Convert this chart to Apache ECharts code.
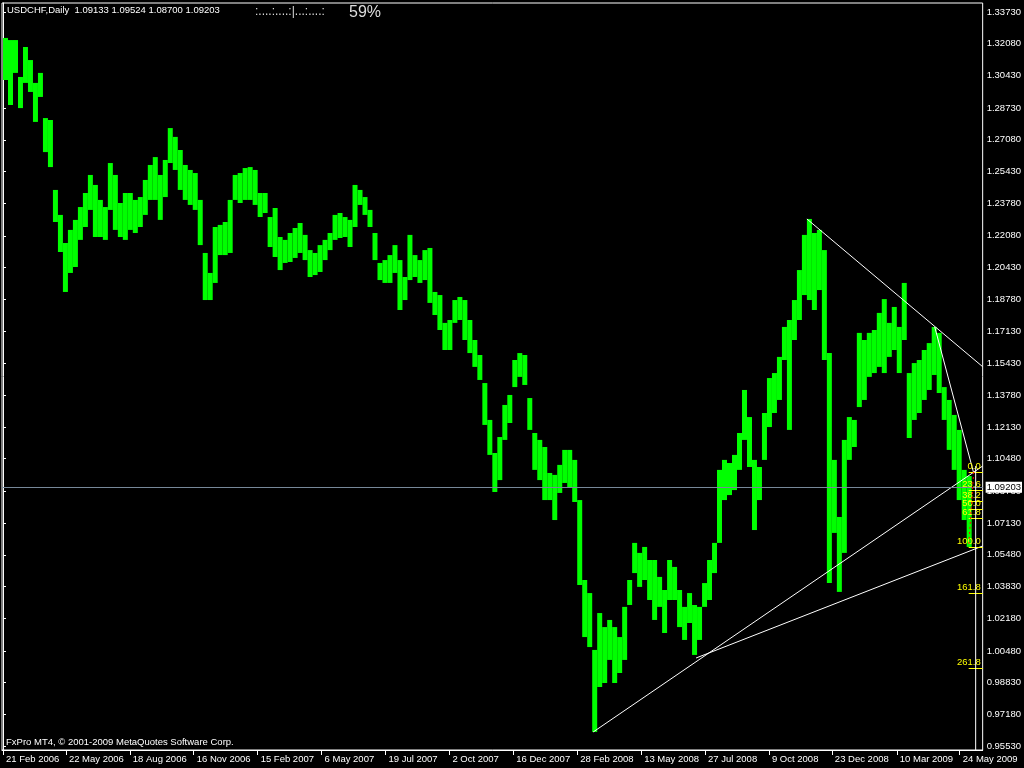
<!DOCTYPE html>
<html><head><meta charset="utf-8">
<style>html,body{margin:0;padding:0;background:#000;}#c{width:1024px;height:768px;}</style>
<script src="https://cdn.jsdelivr.net/npm/echarts/dist/echarts.min.js"></script>
</head><body><div id="c"></div>
<script>
// ---- data ----
const symbolTitle = 'USDCHF,Daily';
const lastOHLC = ['1.09133', '1.09524', '1.08700', '1.09203'];
const bidPrice = 1.09203;
const progressText = ':....:....:|...:....:';
const progressPct = '59%';
const copyright = 'FxPro MT4, \u00a9 2001-2009 MetaQuotes Software Corp.';
const STEP = 5; // bars per column (1 bar = 1 day)
const highs = [
1.3238,1.3227,1.3227,1.3035,1.3191,1.3123,1.3004,1.3056,1.2821,1.2811,
1.2447,1.2317,1.2171,1.2239,1.2291,1.2358,1.2431,1.2525,1.2473,1.2395,
1.2358,1.2587,1.2525,1.2379,1.2431,1.2431,1.2395,1.2410,1.2499,1.2577,
1.2618,1.2525,1.2603,1.2769,1.2723,1.2655,1.2577,1.2551,1.2535,1.2395,
1.2119,1.2015,1.2254,1.2265,1.2280,1.2395,1.2525,1.2535,1.2561,1.2566,
1.2551,1.2431,1.2431,1.2306,1.2353,1.2202,1.2187,1.2223,1.2249,1.2275,
1.2213,1.2134,1.2119,1.2160,1.2187,1.2223,1.2317,1.2327,1.2306,1.2291,
1.2473,1.2447,1.2410,1.2343,1.2223,1.2067,1.2082,1.2108,1.2160,1.2082,
1.1994,1.2213,1.2108,1.2082,1.2134,1.2145,1.1916,1.1900,1.1755,1.1770,
1.1874,1.1890,1.1874,1.1770,1.1666,1.1588,1.1442,1.1250,1.1078,1.1161,
1.1328,1.1380,1.1562,1.1598,1.1588,1.1364,1.1182,1.1146,1.1109,1.0974,
1.0964,1.1016,1.1094,1.1094,1.1042,1.0833,1.0417,1.0349,1.0053,1.0245,
1.0172,1.0209,1.0172,1.0120,1.0277,1.0417,1.0610,1.0558,1.0589,1.0521,
1.0521,1.0433,1.0365,1.0521,1.0485,1.0365,1.0277,1.0349,1.0287,1.0277,
1.0401,1.0521,1.0610,1.0990,1.1042,1.1026,1.1068,1.1182,1.1406,1.1265,
1.1042,1.1005,1.1286,1.1468,1.1494,1.1578,1.1734,1.1770,1.1874,1.2030,
1.2213,1.2296,1.2223,1.2239,1.2134,1.1598,1.1042,1.0745,1.1146,1.1265,
1.1250,1.1703,1.1666,1.1703,1.1718,1.1807,1.1879,1.1755,1.1838,1.1734,
1.1963,1.1494,1.1546,1.1562,1.1614,1.1650,1.1734,1.1703,1.1421,1.1354,
1.1276,1.1198,1.0990,1.0958
];
const lows = [
1.3019,1.2889,1.3056,1.2873,1.3004,1.2957,1.2801,1.2931,1.2644,1.2566,
1.2280,1.2124,1.1916,1.2015,1.2046,1.2187,1.2254,1.2343,1.2202,1.2202,
1.2187,1.2343,1.2239,1.2202,1.2187,1.2239,1.2223,1.2254,1.2317,1.2395,
1.2395,1.2291,1.2410,1.2587,1.2551,1.2447,1.2395,1.2369,1.2343,1.2160,
1.1874,1.1874,1.1963,1.2108,1.2108,1.2119,1.2395,1.2379,1.2395,1.2395,
1.2369,1.2306,1.2327,1.2150,1.2098,1.2030,1.2067,1.2072,1.2093,1.2119,
1.2082,1.1994,1.2004,1.2020,1.2082,1.2134,1.2187,1.2197,1.2202,1.2150,
1.2254,1.2369,1.2317,1.2254,1.2082,1.1978,1.1963,1.1963,1.2015,1.1822,
1.1874,1.1978,1.1994,1.1963,1.1978,1.1859,1.1796,1.1718,1.1614,1.1614,
1.1755,1.1770,1.1666,1.1598,1.1526,1.1458,1.1224,1.1068,1.0875,1.0937,
1.1146,1.1234,1.1421,1.1474,1.1432,1.1198,1.0990,1.0937,1.0833,1.0833,
1.0729,1.0870,1.0922,1.0901,1.0823,1.0391,1.0120,1.0068,0.9626,0.9860,
0.9881,1.0001,0.9881,0.9933,1.0001,1.0287,1.0453,1.0381,1.0417,1.0313,
1.0209,1.0277,1.0141,1.0313,1.0313,1.0172,1.0105,1.0193,1.0027,1.0105,
1.0277,1.0313,1.0453,1.0610,1.0833,1.0859,1.0885,1.0990,1.1146,1.1005,
1.0677,1.0833,1.1042,1.1213,1.1286,1.1354,1.1562,1.1198,1.1666,1.1770,
1.1900,1.1874,1.1822,1.1926,1.1562,1.0401,1.0662,1.0355,1.0558,1.1042,
1.1109,1.1317,1.1354,1.1474,1.1494,1.1526,1.1494,1.1578,1.1614,1.1494,
1.1666,1.1156,1.1250,1.1286,1.1354,1.1406,1.1484,1.1390,1.1250,1.1094,
1.0990,1.0833,1.0729,1.0589
];
const dateLabels = ['21 Feb 2006','22 May 2006','18 Aug 2006','16 Nov 2006','15 Feb 2007','6 May 2007','19 Jul 2007','2 Oct 2007','16 Dec 2007','28 Feb 2008','13 May 2008','27 Jul 2008','9 Oct 2008','23 Dec 2008','10 Mar 2009','24 May 2009'];
const dateTickBars = [0,63,127,191,255,319,383,447,511,575,639,703,767,830,895,958];
const priceTicks = [1.33730,1.32080,1.30430,1.28730,1.27080,1.25430,1.23780,1.22080,1.20430,1.18780,1.17130,1.15430,1.13780,1.12130,1.10480,1.08780,1.07130,1.05480,1.03830,1.02180,1.00480,0.98830,0.97180,0.95530];
const priceMin = 0.95322, priceMax = 1.34199;
const barMin = -1, barMax = 981;
// trend lines: [bar, price] anchor pairs
const trendLines = [
  [[591, 0.9626], [981, 1.1010]],
  [[694, 1.0011], [981, 1.0594]],
  [[805, 1.2296], [981, 1.1527]],
  [[933, 1.1734], [972, 1.0974]]
];
const fibHigh = 1.0979, fibLow = 1.0589;
const fibLevels = [0, 23.6, 38.2, 50, 61.8, 100, 161.8, 261.8];
const fibBars = [967, 981];
const fibAnchorBars = [972, 967];
const vLineBar = 974, vLineTop = 1.1010;

// ---- chart ----
const chart = echarts.init(document.getElementById('c'), null, {renderer: 'canvas'});
const FONT = 'Liberation Sans';
const barData = highs.map((h, i) => [i * STEP, h, lows[i]]);

const series = [];
series.push({
  type: 'custom',
  name: 'bars',
  data: barData,
  encode: {x: 0, y: [1, 2]},
  clip: true,
  renderItem: function (params, api) {
    const b = api.value(0);
    const p1 = api.coord([b, api.value(1)]);
    const p2 = api.coord([b + STEP, api.value(2)]);
    return {
      type: 'rect',
      shape: {x: p1[0], y: p1[1], width: p2[0] - p1[0], height: Math.max(1, p2[1] - p1[1])},
      style: {fill: '#00ff00'}
    };
  },
  markLine: {
    silent: true,
    symbol: ['none', 'none'],
    lineStyle: {color: '#778899', width: 1, type: 'solid'},
    label: {
      show: true, position: 'end', formatter: lastOHLC[3],
      backgroundColor: '#ffffff', color: '#000000', fontSize: 9.5, fontFamily: FONT,
      padding: [1, 1, 0, 1], distance: 3
    },
    data: [{yAxis: bidPrice}]
  },
  z: 2
});
trendLines.forEach(tl => series.push({
  type: 'line', data: tl, symbol: 'none', silent: true,
  lineStyle: {color: '#ffffff', width: 1}, z: 4
}));
// Fibonacci retracement levels (line + label)
series.push({
  type: 'custom', silent: true, z: 5, clip: false,
  data: fibLevels.map(lv => [lv, fibHigh - (fibHigh - fibLow) * lv / 100]),
  encode: {y: 1},
  renderItem: function (params, api) {
    const lv = api.value(0), p = api.value(1);
    const a = api.coord([fibBars[0], p]);
    const b = api.coord([fibBars[1], p]);
    return {
      type: 'group',
      children: [
        {type: 'line', shape: {x1: a[0], y1: Math.round(a[1]) + 0.5, x2: b[0], y2: Math.round(b[1]) + 0.5},
         style: {stroke: '#ffff00', lineWidth: 1}},
        {type: 'text', x: b[0] - 2, y: Math.round(b[1]) - 1,
         style: {text: lv.toFixed(1), fill: '#ffff00', font: '9.5px "Liberation Sans"', align: 'right', verticalAlign: 'bottom'}}
      ]
    };
  }
});
series.push({
  type: 'line', symbol: 'none', silent: true, z: 5,
  lineStyle: {color: '#ff0000', width: 1, type: [2, 3]},
  data: [[fibAnchorBars[0], fibHigh], [fibAnchorBars[1], fibLow]]
});
series.push({
  type: 'line', symbol: 'none', silent: true, z: 5,
  lineStyle: {color: '#ffffff', width: 1},
  data: [[vLineBar, vLineTop], [vLineBar, priceMin]]
});

chart.setOption({
  backgroundColor: '#000000',
  animation: false,
  grid: {left: 2, top: 3, right: 40, bottom: 18, show: true, borderColor: '#ffffff', borderWidth: 1},
  xAxis: {
    type: 'value', min: barMin, max: barMax,
    axisLine: {show: true, lineStyle: {color: '#ffffff', width: 1}},
    axisTick: {show: true, customValues: dateTickBars, length: 5, lineStyle: {color: '#ffffff'}},
    axisLabel: {
      show: true, customValues: dateTickBars,
      formatter: v => dateLabels[dateTickBars.indexOf(v)] || '',
      color: '#ffffff', fontSize: 9.5, fontFamily: FONT, align: 'left', padding: [0, 0, 0, 3], margin: 4
    },
    splitLine: {show: false}
  },
  yAxis: {
    type: 'value', position: 'right', min: priceMin, max: priceMax, scale: true,
    axisLine: {show: true, lineStyle: {color: '#ffffff', width: 1}},
    axisTick: {show: true, customValues: priceTicks, length: 3, lineStyle: {color: '#ffffff'}},
    axisLabel: {
      show: true, customValues: priceTicks, formatter: v => v.toFixed(5),
      color: '#ffffff', fontSize: 9.5, fontFamily: FONT, margin: 4
    },
    splitLine: {show: false}
  },
  graphic: [
    {type: 'text', left: 7, top: 5, z: 10, style: {text: symbolTitle + '  ' + lastOHLC.join(' '), fill: '#ffffff', font: '9.5px "Liberation Sans"'}},
    {type: 'text', left: 255, top: 6, z: 10, style: {text: progressText, fill: '#dddddd', font: '12px "Liberation Sans"'}},
    {type: 'text', left: 349, top: 5, z: 10, style: {text: progressPct, fill: '#dddddd', font: '16px "Liberation Sans"'}},
    {type: 'text', left: 6, top: 737, z: 10, style: {text: copyright, fill: '#ffffff', font: '9.5px "Liberation Sans"'}}
  ],
  series: series
});
</script></body></html>
